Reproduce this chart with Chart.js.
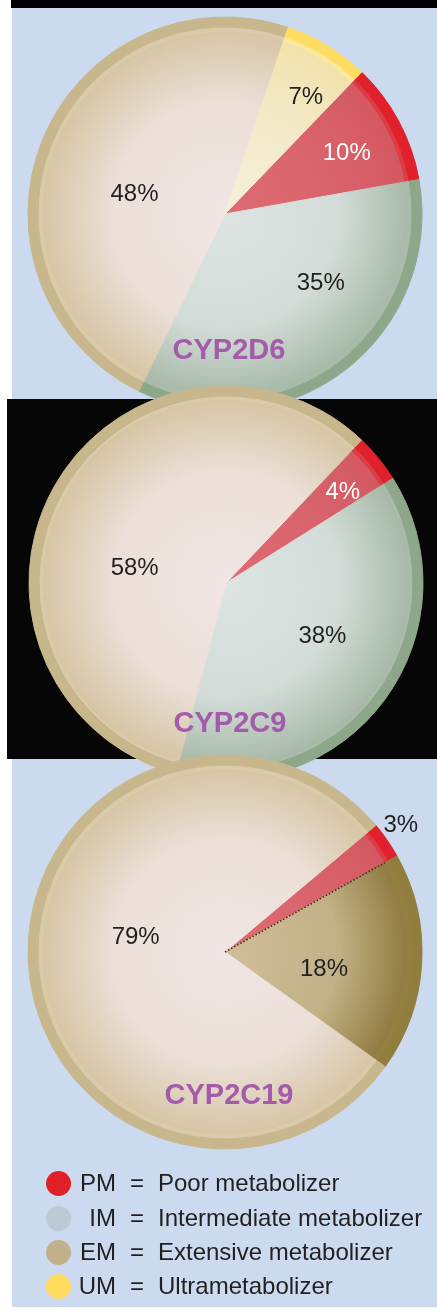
<!DOCTYPE html>
<html>
<head>
<meta charset="utf-8">
<title>CYP phenotype frequencies</title>
<script src="https://cdn.jsdelivr.net/npm/chart.js@4.4.1/dist/chart.umd.min.js"></script>
<style>
  html, body { margin: 0; padding: 0; }
  body {
    width: 437px; height: 1311px; position: relative; overflow: hidden;
    background: #fff; font-family: "Liberation Sans", Arial, Helvetica, sans-serif;
  }
  #bg { position: absolute; left: 12px; top: 0; width: 425px; height: 1307px; background: #cbdaef; }
  #topbar { position: absolute; left: 11px; top: 0; width: 426px; height: 8px; background: #000; }
  #band { position: absolute; left: 7px; top: 399px; width: 430px; height: 360px; background: #060606; z-index: 2; }
  canvas { position: absolute; left: 0; }
  #cyp2d6 { top: -6px; z-index: 1; }
  #cyp2c9 { top: 363px; z-index: 3; }
  #cyp2c19 { top: 732px; z-index: 4; }
  #legend { position: absolute; left: 0; top: 0; width: 437px; z-index: 5; }
  .row { position: absolute; left: 0; width: 437px; height: 34px; line-height: 34px; font-size: 24px; color: #231f20; }
  .dot { position: absolute; left: 46px; top: 4.5px; width: 25px; height: 25px; border-radius: 50%; }
  .code { position: absolute; left: 56px; width: 60px; text-align: right; }
  .eq { position: absolute; left: 127px; width: 20px; text-align: center; }
  .name { position: absolute; left: 158px; white-space: nowrap; }
</style>
</head>
<body>
<div id="bg"></div>
<div id="topbar"></div>
<div id="band"></div>
<canvas id="cyp2d6" width="437" height="440"></canvas>
<canvas id="cyp2c9" width="437" height="440"></canvas>
<canvas id="cyp2c19" width="437" height="440"></canvas>
<div id="legend"></div>

<script>
// ---- data (percent of population per phenotype) ----
const CYP2D6_LABELS = ['PM', 'IM', 'EM', 'UM'];
const CYP2D6_VALUES = [10, 35, 48, 7];

const CYP2C9_LABELS = ['PM', 'IM', 'EM'];
const CYP2C9_VALUES = [4, 38, 58];

const CYP2C19_LABELS = ['PM', 'IM', 'EM'];
const CYP2C19_VALUES = [3, 18, 79];

const LEGEND_CODES = ['PM', 'IM', 'EM', 'UM'];
const LEGEND_NAMES = ['Poor metabolizer', 'Intermediate metabolizer', 'Extensive metabolizer', 'Ultrametabolizer'];

// ---- styles ----
const Palette = {
    PM:  { inner: '#de6b73', mid: '#d9636b', outer: '#d45861', band: '#dc3c45', rim: '#e0212b' },
    IM:  { inner: '#dde4e2', mid: '#d3dcd8', outer: '#a7b9a8', band: '#a9bba9', rim: '#8ea78b' },
    EM:  { inner: '#f1e6e4', mid: '#ebdfd7', outer: '#d6c5a4', band: '#d9cba9', rim: '#c8b68c' },
    UM:  { inner: '#f6efd9', mid: '#f3e9c6', outer: '#f1e2ab', band: '#fbe8a0', rim: '#ffdd62' },
    TAN: { inner: '#cfbe9a', mid: '#c2b086', outer: '#8f7b3f', band: '#938040', rim: '#917d3d' }
};
const LEGEND_COLORS = ['#df2029', '#bccbd3', '#c2b08a', '#ffdb5f'];
const DARK = '#231f20';
const TITLE_COLOR = '#a45ba9';
const FONT = '"Liberation Sans", Arial, Helvetica, sans-serif';

/**
 * Draws the percentage labels, the gene name and an optional dotted edge
 */
const SliceLabels = {
    id: 'sliceLabels',
    afterDatasetsDraw(chart, args, opts) {
        const ctx = chart.ctx;
        const rimArcs = chart.getDatasetMeta(0).data;
        const arcs = chart.getDatasetMeta(2).data;
        const values = chart.data.datasets[2].data;
        ctx.save();

        if (opts.dottedEdge != null) {
            const a = arcs[opts.dottedEdge].getProps(['x', 'y', 'endAngle', 'outerRadius'], true);
            ctx.strokeStyle = '#3b2c1c';
            ctx.lineWidth = 1.6;
            ctx.setLineDash([1.5, 2]);
            ctx.beginPath();
            ctx.moveTo(a.x, a.y);
            ctx.lineTo(a.x + Math.cos(a.endAngle) * a.outerRadius, a.y + Math.sin(a.endAngle) * a.outerRadius);
            ctx.stroke();
            ctx.setLineDash([]);
        }

        ctx.textAlign = 'center';
        ctx.textBaseline = 'middle';
        ctx.font = '24px ' + FONT;
        arcs.forEach((arc, i) => {
            const p = arc.getProps(['x', 'y', 'startAngle', 'endAngle'], true);
            const R = rimArcs[i].outerRadius;
            const place = opts.place[i];
            const ang = (p.startAngle + p.endAngle) / 2 + place.shift * Math.PI / 180;
            ctx.fillStyle = opts.colors[i];
            ctx.fillText(values[i] + '%', p.x + Math.cos(ang) * R * place.frac, p.y + Math.sin(ang) * R * place.frac);
        });

        const c = arcs[0].getProps(['x', 'y'], true);
        const R = rimArcs[0].outerRadius;
        ctx.font = 'bold 29px ' + FONT;
        ctx.fillStyle = TITLE_COLOR;
        ctx.fillText(opts.title, c.x + 4, c.y + R * opts.titleFrac);
        ctx.restore();
    }
};

function radialFill(cols) {
    return (context) => {
        const c = cols[context.dataIndex];
        const area = context.chart.chartArea;
        if (!area) return c.mid;
        const cx = (area.left + area.right) / 2;
        const cy = (area.top + area.bottom) / 2;
        const r = Math.min(area.right - area.left, area.bottom - area.top) / 2;
        const g = context.chart.ctx.createRadialGradient(cx, cy, 0, cx, cy, r * 0.93);
        g.addColorStop(0, c.inner);
        g.addColorStop(0.62, c.mid);
        g.addColorStop(1, c.outer);
        return g;
    };
}

function makePie(canvasId, labels, values, colorKeys, cfg) {
    const cols = colorKeys.map(k => Palette[k]);
    const fill = radialFill(cols);
    const cx = cfg.centerX;
    return new Chart(document.getElementById(canvasId), {
        type: 'pie',
        data: {
            labels: labels,
            datasets: [
                // outer rim
                { data: values, weight: 10, backgroundColor: cols.map(c => c.rim), borderColor: cols.map(c => c.rim), borderWidth: 1 },
                // soft inner band
                { data: values, weight: 4, backgroundColor: cols.map(c => c.band), borderColor: cols.map(c => c.band), borderWidth: 1 },
                // slice body
                { data: values, weight: 183, backgroundColor: fill, borderColor: fill, borderWidth: 1 }
            ]
        },
        options: {
            responsive: false,
            animation: false,
            rotation: cfg.rotation,
            layout: { padding: { left: cx - 197.5, right: 437 - cx - 197.5, top: 22.5, bottom: 22.5 } },
            events: [],
            plugins: {
                legend: { display: false },
                tooltip: { enabled: false },
                sliceLabels: cfg.labels
            }
        },
        plugins: [SliceLabels]
    });
}

makePie('cyp2d6', CYP2D6_LABELS, CYP2D6_VALUES, ['PM', 'IM', 'EM', 'UM'], {
    centerX: 225, rotation: 43.9,
    labels: {
        title: 'CYP2D6', titleFrac: 0.695,
        colors: ['#ffffff', DARK, DARK, DARK],
        place: [{ frac: 0.69, shift: 1.7 }, { frac: 0.60, shift: -17 }, { frac: 0.47, shift: -10 }, { frac: 0.72, shift: 3.4 }]
    }
});

makePie('cyp2c9', CYP2C9_LABELS, CYP2C9_VALUES, ['PM', 'IM', 'EM'], {
    centerX: 226, rotation: 43.5,
    labels: {
        title: 'CYP2C9', titleFrac: 0.716,
        colors: ['#ffffff', DARK, DARK],
        place: [{ frac: 0.75, shift: 1.5 }, { frac: 0.56, shift: -7.2 }, { frac: 0.47, shift: -19.7 }]
    }
});

makePie('cyp2c19', CYP2C19_LABELS, CYP2C19_VALUES, ['PM', 'TAN', 'EM'], {
    centerX: 225, rotation: 50,
    labels: {
        title: 'CYP2C19', titleFrac: 0.73, dottedEdge: 0,
        colors: [DARK, DARK, DARK],
        place: [{ frac: 1.10, shift: -1.2 }, { frac: 0.51, shift: 6.5 }, { frac: 0.46, shift: 11.8 }]
    }
});

// ---- legend ----
const legend = document.getElementById('legend');
const rowCenters = [1183, 1218, 1252, 1286];
LEGEND_CODES.forEach((code, i) => {
    const row = document.createElement('div');
    row.className = 'row';
    row.style.top = (rowCenters[i] - 17) + 'px';
    row.innerHTML =
        '<span class="dot" style="background:' + LEGEND_COLORS[i] + '"></span>' +
        '<span class="code">' + code + '</span>' +
        '<span class="eq">=</span>' +
        '<span class="name">' + LEGEND_NAMES[i] + '</span>';
    legend.appendChild(row);
});
</script>
</body>
</html>
